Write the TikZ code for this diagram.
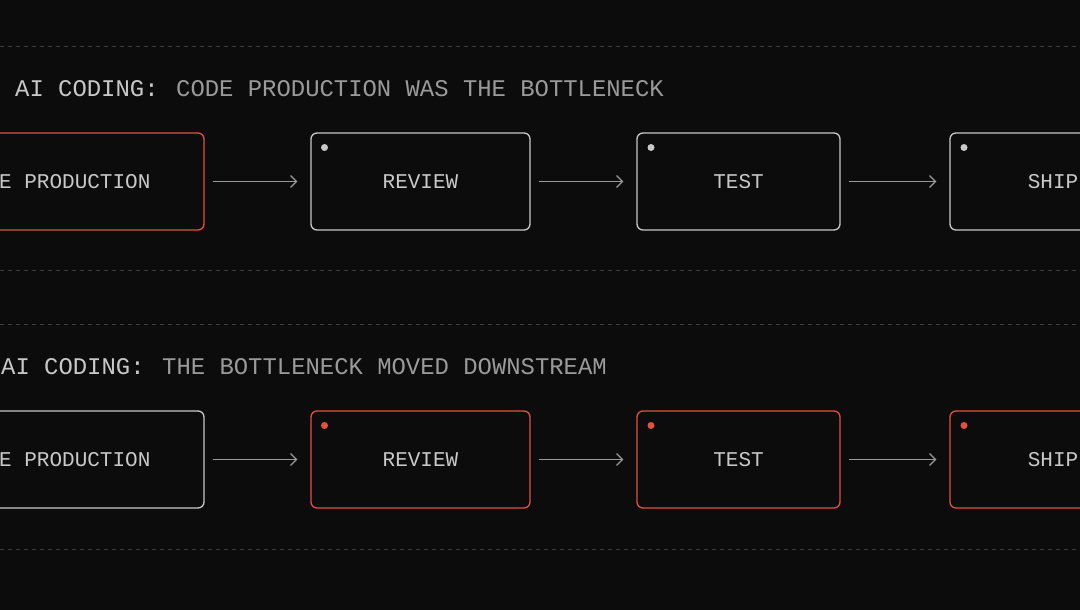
\documentclass[tikz,border=0pt]{standalone}
\usepackage{fontspec}
\setmonofont{Liberation Mono}
\usetikzlibrary{arrows.meta}
\definecolor{bg}{HTML}{0C0C0C}
\definecolor{hot}{HTML}{E2503F}
\definecolor{cool}{HTML}{C8C8C8}
\definecolor{dim}{HTML}{9A9A9A}
\definecolor{rule}{HTML}{3C3C3C}
\begin{document}
\begin{tikzpicture}[x=1pt,y=-1pt,
  stage/.style={draw=#1,line width=1.3pt,rounded corners=6pt,minimum height=97pt,inner sep=0pt,
    text=cool,font=\fontsize{21}{21}\ttfamily},
  flow/.style={draw=dim,line width=1.2pt,-{Straight Barb[length=6pt,width=12pt]},shorten <=8pt,shorten >=13pt},
  sep/.style={draw=rule,line width=0.8pt,dash pattern=on 4pt off 4pt},
  head/.style={font=\fontsize{23.9}{24}\ttfamily,anchor=base west,inner sep=0pt},
  dot/.style={circle,fill=#1,inner sep=0pt,minimum size=7pt}]
\fill[bg] (0,0) rectangle (1080,610);
\useasboundingbox (0,0) rectangle (1080,610);
\clip (0,0) rectangle (1080,610);
\foreach \y/\n in {46/a,270/b,324/c,549/d}{
  \coordinate (l\n) at (0,\y); \coordinate (r\n) at (1080,\y);
  \draw[sep] (l\n) -- (r\n);}
% row 1
\node[head,text=cool] (t1) at (15,96) {AI CODING:};
\node[head,text=dim] (t1b) at (176,96) {CODE PRODUCTION WAS THE BOTTLENECK};
\node[stage=hot,minimum width=264pt] (a1) at (72,181.5) {};
\node[font=\fontsize{21}{21}\ttfamily,text=cool,anchor=west,inner sep=0pt] (a1t) at (-1,181.5) {E PRODUCTION};
\node[stage=cool,minimum width=219pt] (a2) at (420.5,181.5) {REVIEW};
\node[stage=cool,minimum width=203pt] (a3) at (738.5,181.5) {TEST};
\node[stage=cool,minimum width=206pt] (a4) at (1053,181.5) {SHIP};
\node[dot=cool] (d2) at (324.5,147.5) {};
\node[dot=cool] (d3) at (651,147.5) {};
\node[dot=cool] (d4) at (964,147.5) {};
\draw[flow] (a1) -- (a2);
\draw[flow] (a2) -- (a3);
\draw[flow] (a3) -- (a4);
% row 2
\node[head,text=cool] (t2) at (1,374) {AI CODING:};
\node[head,text=dim] (t2b) at (162,374) {THE BOTTLENECK MOVED DOWNSTREAM};
\node[stage=cool,minimum width=264pt] (b1) at (72,459.5) {};
\node[font=\fontsize{21}{21}\ttfamily,text=cool,anchor=west,inner sep=0pt] (b1t) at (-1,459.5) {E PRODUCTION};
\node[stage=hot,minimum width=219pt] (b2) at (420.5,459.5) {REVIEW};
\node[stage=hot,minimum width=203pt] (b3) at (738.5,459.5) {TEST};
\node[stage=hot,minimum width=206pt] (b4) at (1053,459.5) {SHIP};
\node[dot=hot] (e2) at (324.5,425.5) {};
\node[dot=hot] (e3) at (651,425.5) {};
\node[dot=hot] (e4) at (964,425.5) {};
\draw[flow] (b1) -- (b2);
\draw[flow] (b2) -- (b3);
\draw[flow] (b3) -- (b4);
\end{tikzpicture}
\end{document}
